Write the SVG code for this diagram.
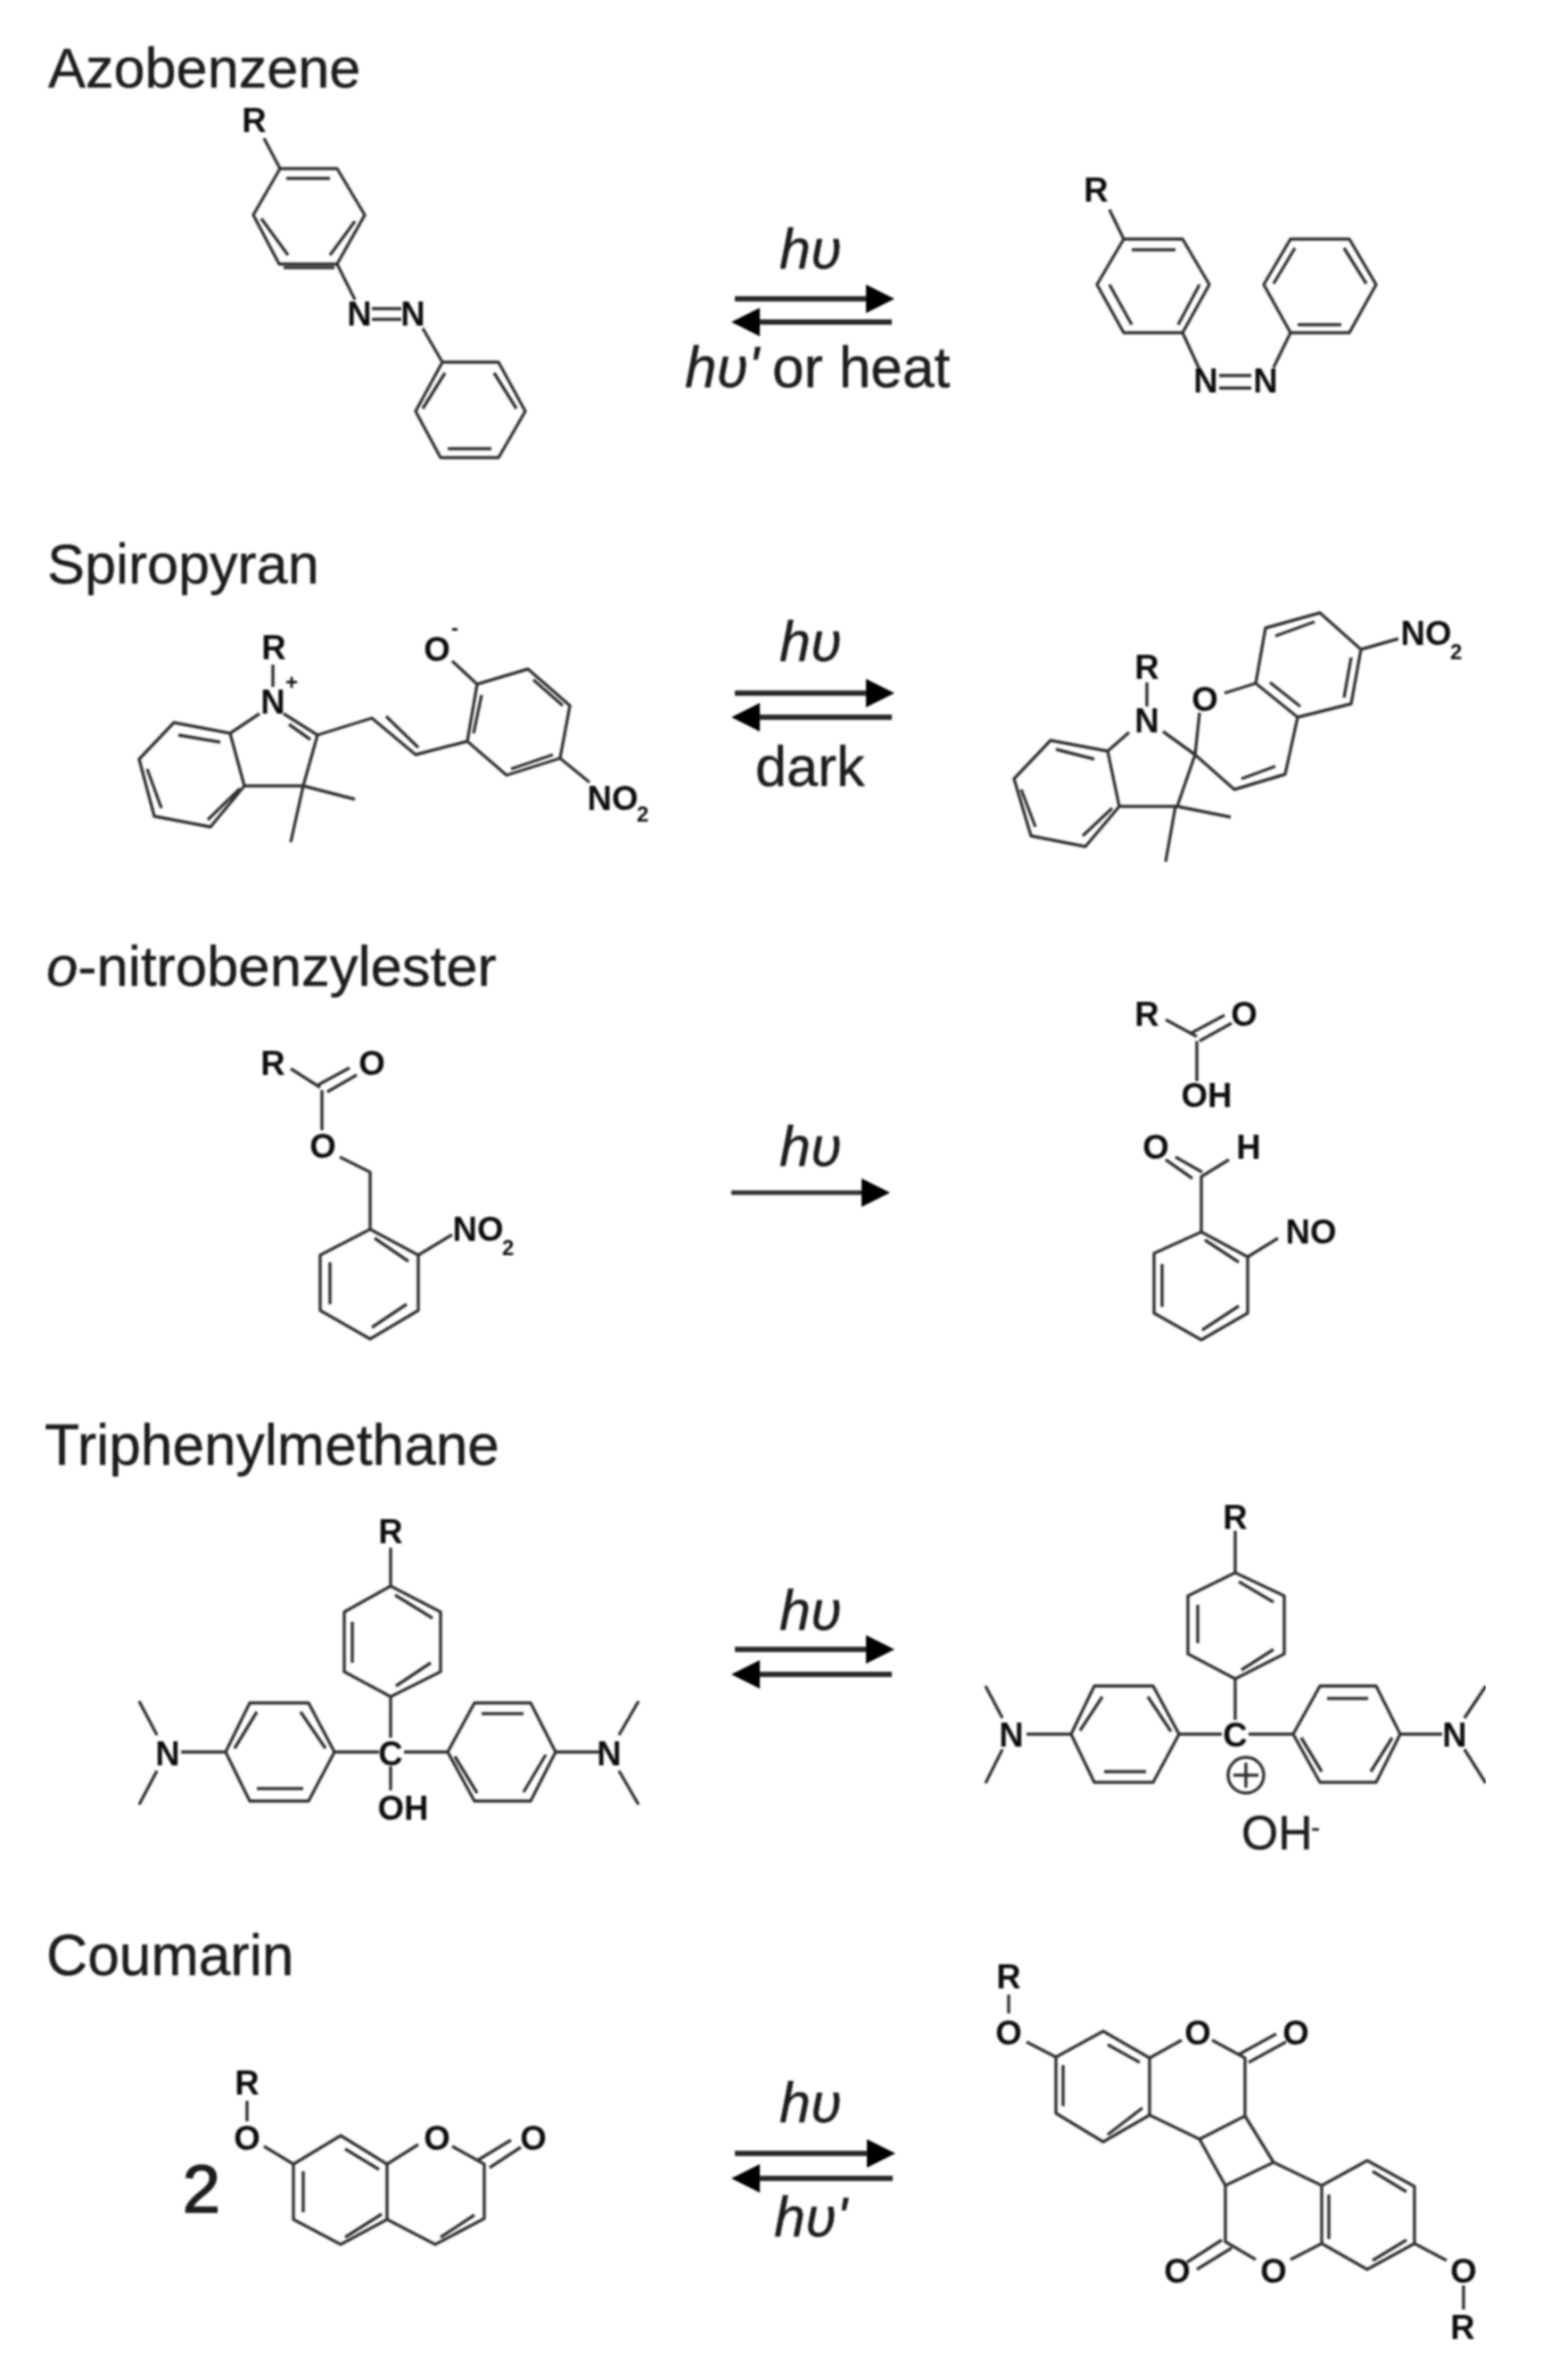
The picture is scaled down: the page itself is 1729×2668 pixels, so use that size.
<svg xmlns="http://www.w3.org/2000/svg" width="1729" height="2668" viewBox="0 0 1729 2668">
<style>
.b{fill:none;stroke:#2e2e2e;stroke-width:3.4;stroke-linejoin:round;stroke-linecap:butt}
.a{fill:none;stroke:#2a2a2a;stroke-width:6}
.t{font-family:"Liberation Sans",Arial,sans-serif;font-size:63px;fill:#1c1c1c;stroke:#1c1c1c;stroke-width:.5}
.i{font-style:italic}
.l{font-family:"Liberation Sans",Arial,sans-serif;font-size:38px;font-weight:bold;fill:#111;text-anchor:middle}
.s{font-family:"Liberation Sans",Arial,sans-serif;font-size:24px;font-weight:bold;fill:#111}
</style>
<defs>
<marker id="head" markerUnits="userSpaceOnUse" markerWidth="32" markerHeight="32" refX="0" refY="16" orient="auto" viewBox="0 0 32 32"><path d="M0 0L32 16L0 32Z" fill="#000"/></marker>
<filter id="soft" x="0" y="0" width="100%" height="100%"><feGaussianBlur stdDeviation="0.9"/></filter>
</defs>
<rect width="1729" height="2668" fill="#fff"/>
<g filter="url(#soft)">
<g id="titles">
<text class="t" x="54" y="98">Azobenzene</text>
<text class="t" x="53" y="654">Spiropyran</text>
<text class="t" x="52" y="1105" style="font-size:63.5px"><tspan class="i">o</tspan>-nitrobenzylester</text>
<text class="t" x="50" y="1642" style="font-size:64px">Triphenylmethane</text>
<text class="t" x="52" y="2214" style="font-size:64px">Coumarin</text>
</g>
<g id="azobenzene-left">
<path class="b" d="M314 189L378 189L409 241L378 296L313 296L284 241Z M321 200L370 200 M293 245L323 286 M398 248L370 286 M318 300L375 300 M296 155L314 189 M378 296L398 336 M417 346L450 346 M417 358L450 358 M474 368L496 406 M496 406L559 406L589 461L559 513L494 513L466 461Z M499 418L474 458 M554 418L579 458 M502 503L551 503"/>
<text class="l" x="285" y="148">R</text><text class="l" x="403" y="365">N</text><text class="l" x="463" y="365">N</text>
</g>
<g id="azobenzene-right">
<path class="b" d="M1260 268L1326 268L1356 319L1326 373L1260 373L1230 319Z M1269 280L1318 280 M1244 319L1269 364 M1345 319L1321 364 M1244 235L1260 268 M1326 373L1345 414 M1367 421L1403 421 M1367 435L1403 435 M1428 412L1447 373 M1447 268L1513 268L1543 319L1513 373L1447 373L1417 319Z M1452 278L1428 318 M1507 278L1532 318 M1455 364L1504 364"/>
<text class="l" x="1229" y="226">R</text><text class="l" x="1352" y="440">N</text><text class="l" x="1419" y="440">N</text>
</g>
<g id="spiropyran-left">
<path class="b" d="M306 745L306 770 M291 800L258 822 M318 800L356 824 M324 812L348 829 M258 822L274 881L340 881L356 824 M340 881L398 896 M340 881L326 944 M258 822L195 810L156 851L173 915L236 927L274 881 M200 824L247 832 M165 862L181 906 M233 919L269 884 M356 824L417 805L466 846L524 831 M433 803L469 838 M524 831L535 767L592 750L639 791L628 850L568 869Z M540 779L531 822 M598 762L631 791 M573 862L620 846 M507 741L535 767 M628 850L661 877"/>
<text class="l" x="307" y="739">R</text><text class="l" x="306" y="800">N</text><text class="s" x="320" y="773">+</text><text class="l" x="490" y="741">O</text><text class="s" x="506" y="712">-</text><text class="l" x="687" y="908">NO</text><text class="s" x="714" y="921">2</text>
</g>
<g id="spiropyran-right">
<path class="b" d="M1286 765L1286 792 M1266 821L1242 842 M1304 820L1340 846 M1242 842L1255 904L1320 904L1340 846 M1320 904L1380 916 M1318 904L1307 966 M1242 842L1178 830L1137 873L1156 937L1217 949L1255 904 M1184 840L1227 851 M1145 885L1161 927 M1214 937L1247 906 M1340 846L1345 799 M1373 777L1408 766 M1408 766L1455 804L1441 868L1384 885L1340 846 M1424 765L1458 792 M1392 873L1430 859 M1408 766L1419 704L1480 687L1526 728L1515 789L1455 804 M1430 713L1474 697 M1515 737L1507 782 M1526 728L1568 716"/>
<text class="l" x="1286" y="761">R</text><text class="l" x="1286" y="821">N</text><text class="l" x="1351" y="797">O</text><text class="l" x="1599" y="723">NO</text><text class="s" x="1626" y="739">2</text>
</g>
<g id="nitrobenzyl-left">
<path class="b" d="M326 1198L359 1219 M357 1216L392 1197 M367 1224L400 1205 M361 1222L361 1267 M381 1297L415 1314L415 1378 M415 1378L469 1407L469 1469L415 1501L359 1469L359 1407Z M420 1388L458 1414 M370 1415L370 1462 M417 1488L456 1462 M469 1407L507 1384"/>
<text class="l" x="306" y="1205">R</text><text class="l" x="417" y="1205">O</text><text class="l" x="362" y="1298">O</text><text class="l" x="536" y="1391">NO</text><text class="s" x="563" y="1407">2</text>
</g>
<g id="nitrobenzyl-right">
<path class="b" d="M1307 1143L1342 1162 M1334 1159L1373 1138 M1345 1167L1381 1147 M1342 1167L1342 1212 M1307 1300L1337 1321 M1318 1297L1348 1314 M1378 1300L1347 1319L1347 1381 M1347 1381L1399 1409L1399 1472L1347 1502L1294 1472L1294 1405Z M1351 1390L1389 1415 M1303 1417L1303 1465 M1348 1491L1389 1464 M1399 1409L1433 1388"/>
<text class="l" x="1286" y="1150">R</text><text class="l" x="1395" y="1150">O</text><text class="l" x="1353" y="1241">OH</text><text class="l" x="1296" y="1299">O</text><text class="l" x="1400" y="1299">H</text><text class="l" x="1470" y="1394">NO</text>
</g>
<g id="triphenylmethane-left">
<path class="b" d="M438 1735L438 1778 M438 1778L494 1807L494 1874L438 1902L386 1874L386 1807Z M443 1788L485 1814 M395 1818L395 1864 M444 1890L483 1864 M438 1902L438 1948 M438 1980L438 2007 M280 1909L346 1909L375 1964L346 2019L280 2019L253 1964Z M288 1919L263 1960 M337 1919L365 1960 M288 2005L340 2005 M375 1964L425 1964 M203 1964L253 1964 M176 1945L156 1907 M176 1985L156 2023 M532 1909L595 1909L623 1964L595 2019L532 2019L502 1964Z M540 1921L587 1921 M510 1969L535 2010 M612 1967L587 2009 M453 1964L502 1964 M623 1964L672 1964 M694 1945L716 1907 M694 1985L716 2023"/>
<text class="l" x="438" y="1730">R</text><text class="l" x="438" y="1979">C</text><text class="l" x="452" y="2040">OH</text><text class="l" x="188" y="1979">N</text><text class="l" x="683" y="1979">N</text>
</g>
<g id="triphenylmethane-right">
<path class="b" d="M1385 1716L1385 1763 M1385 1763L1440 1789L1440 1854L1385 1882L1332 1854L1332 1789Z M1389 1773L1428 1796 M1343 1799L1343 1842 M1392 1872L1428 1849 M1385 1882L1385 1928 M1227 1890L1293 1890L1322 1944L1293 1998L1227 1998L1201 1944Z M1236 1902L1211 1940 M1287 1902L1313 1941 M1238 1986L1285 1986 M1151 1944L1201 1944 M1322 1944L1370 1944 M1124 1926L1105 1890 M1124 1961L1105 1999 M1480 1890L1543 1890L1570 1944L1543 1998L1480 1998L1450 1944Z M1488 1904L1534 1904 M1459 1948L1482 1986 M1561 1948L1537 1986 M1400 1944L1450 1944 M1570 1944L1617 1944 M1642 1926L1666 1890 M1642 1961L1666 1999"/>
<circle class="b" cx="1397" cy="1990" r="20"/><path class="b" d="M1397 1976L1397 2004 M1383 1990L1411 1990"/>
<text class="l" x="1385" y="1958">C</text><text class="l" x="1385" y="1714">R</text><text class="l" x="1134" y="1958">N</text><text class="l" x="1631" y="1958">N</text>
<text class="t" x="1392" y="2073" style="font-size:53px">OH</text><text class="t" x="1470" y="2059" style="font-size:30px">-</text>
</g>
<g id="coumarin-left">
<path class="b" d="M277 2355L277 2378 M296 2406L329 2426 M329 2426L382 2394L434 2426L434 2488L382 2516L329 2488Z M387 2409L425 2432 M340 2434L340 2480 M387 2508L428 2482 M434 2426L469 2404 M507 2406L543 2426L543 2487L488 2516L434 2488 M494 2508L532 2483 M535 2422L573 2399 M549 2430L584 2407"/>
<text class="l" x="277" y="2348">R</text><text class="l" x="277" y="2410">O</text><text class="l" x="490" y="2410">O</text><text class="l" x="598" y="2410">O</text>
<text class="t" x="226" y="2480" style="font-size:76px;text-anchor:middle;stroke-width:1.6">2</text>
</g>
<g id="coumarin-right">
<path class="b" d="M1131 2236L1131 2257 M1151 2289L1184 2306 M1184 2306L1237 2277L1289 2307L1289 2371L1237 2401L1184 2369Z M1242 2292L1278 2312 M1192 2315L1192 2361 M1242 2393L1281 2363 M1289 2307L1325 2287 M1359 2287L1396 2307L1396 2372L1345 2398L1289 2371 M1389 2303L1431 2280 M1400 2312L1442 2289 M1345 2398L1374 2450L1428 2424L1396 2372 M1428 2424L1482 2450 M1374 2450L1374 2513L1408 2533 M1447 2533L1482 2515 M1482 2450L1533 2422L1586 2451L1586 2515L1533 2544L1482 2515Z M1539 2434L1577 2457 M1490 2460L1490 2510 M1539 2534L1577 2511 M1370 2511L1331 2536 M1381 2520L1342 2544 M1586 2515L1622 2534 M1641 2562L1641 2589"/>
<text class="l" x="1131" y="2229">R</text><text class="l" x="1131" y="2292">O</text><text class="l" x="1343" y="2292">O</text><text class="l" x="1453" y="2292">O</text><text class="l" x="1428" y="2559">O</text><text class="l" x="1320" y="2559">O</text><text class="l" x="1641" y="2559">O</text><text class="l" x="1640" y="2622">R</text>
</g>
<g id="connectors">
<path class="a" d="M824 335L971 335" marker-end="url(#head)"/><path class="a" d="M1000 361L852 361" marker-end="url(#head)"/>
<path class="a" d="M824 777L971 777" marker-end="url(#head)"/><path class="a" d="M1000 804L852 804" marker-end="url(#head)"/>
<path class="a" d="M820 1337L966 1337" marker-end="url(#head)" style="stroke-width:5"/>
<path class="a" d="M824 1849L971 1849" marker-end="url(#head)"/><path class="a" d="M1000 1877L852 1877" marker-end="url(#head)"/>
<path class="a" d="M824 2414L972 2414" marker-end="url(#head)"/><path class="a" d="M1001 2442L852 2442" marker-end="url(#head)"/>
</g>
<g id="reaction-labels">
<text class="t i" x="874" y="301">hυ</text>
<text class="t" x="768" y="434" style="font-size:64px"><tspan class="i">hυ'</tspan><tspan x="866">or heat</tspan></text>
<text class="t i" x="874" y="741">hυ</text>
<text class="t" x="847" y="881">dark</text>
<text class="t i" x="874" y="1307">hυ</text>
<text class="t i" x="874" y="1827">hυ</text>
<text class="t i" x="874" y="2379">hυ</text>
<text class="t i" x="868" y="2507">hυ'</text>
</g>
</g>
</svg>
